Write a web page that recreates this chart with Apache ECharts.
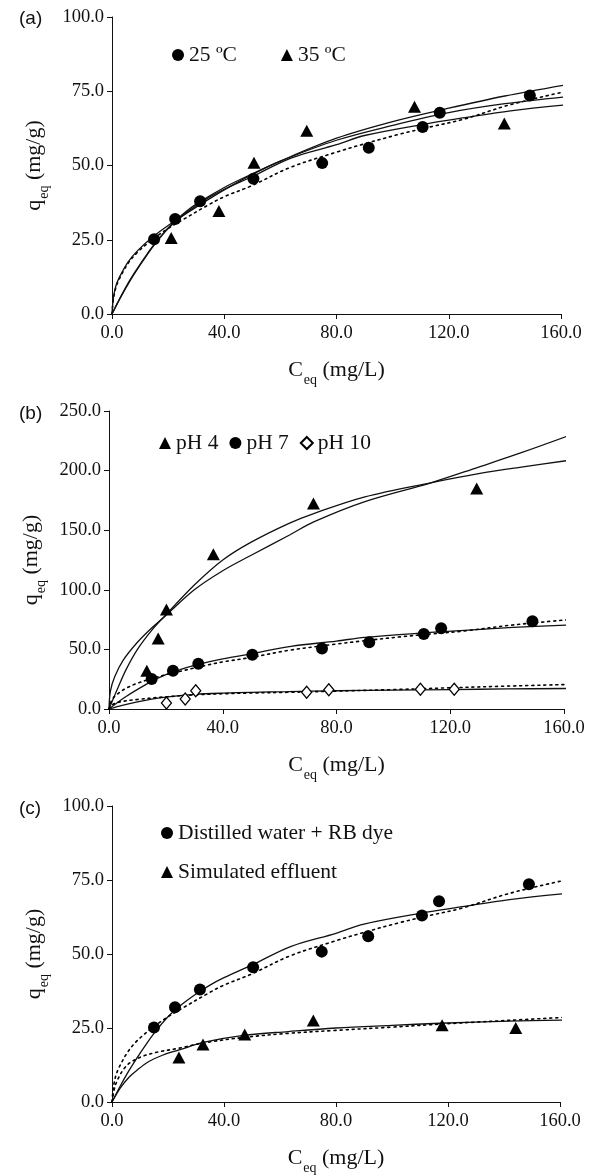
<!DOCTYPE html>
<html>
<head>
<meta charset="utf-8">
<title>Isotherms</title>
<script src="https://cdn.jsdelivr.net/npm/echarts@6/dist/echarts.min.js"></script>
<style>
  html, body { margin: 0; padding: 0; background: #fff; }
  #chart { width: 589px; height: 1176px; }
</style>
</head>
<body>
<div id="chart"></div>
<script>
// ---- data ----
// x ticks (shared by all panels)
var xTicks = [0, 40, 80, 120, 160];

// measured points, 25 C / pH 7 / distilled water (same run in a, b, c)
var ce25 = [15.0, 22.5, 31.4, 50.4, 74.9, 91.5, 110.7, 116.8, 148.9];
var qe25 = [25.2, 32.0, 38.0, 45.5, 50.8, 56.0, 63.0, 67.8, 73.6];

// (a) 35 C
var ce35 = [21.1, 38.1, 50.6, 69.4, 107.8, 139.8];
var qe35 = [25.6, 34.7, 50.9, 61.7, 69.8, 64.1];

// (b) pH 4 and pH 10
var cePH4 = [13.3, 17.3, 20.2, 36.7, 71.9, 129.3];
var qePH4 = [32.1, 59.2, 83.5, 129.9, 172.3, 184.9];
var cePH10 = [20.2, 26.8, 30.5, 69.5, 77.3, 109.5, 121.4];
var qePH10 = [5.0, 8.4, 15.4, 14.0, 16.2, 16.5, 16.5];

// (c) simulated effluent
var ceSE = [23.9, 32.5, 47.4, 71.9, 117.9, 144.2];
var qeSE = [15.0, 19.4, 22.8, 27.5, 25.9, 25.0];

// fitted curves
var fitL25x = [0, 3, 6, 9, 12, 15, 20, 25, 30, 35, 40, 50, 64, 80, 90, 113, 125, 142, 162.5];
var fitL25y = [0, 5.5, 10.5, 15, 19.2, 23.2, 28.8, 33, 36.5, 39.5, 42, 46.3, 52.6, 57, 60.1, 64.2, 66, 68.4, 70.5];
var fitF25x = [0, 0.5, 1.4, 2.7, 5.7, 9.3, 14.6, 20, 24.8, 34.3, 40, 49.8, 63.4, 80, 89.6, 102.7, 113.4, 125, 142, 162.5];
var fitF25y = [0, 5, 9, 12, 17, 21, 25.2, 28.8, 31.5, 36.7, 39.5, 43.2, 49.3, 54.5, 57.2, 60.6, 63, 65.5, 70.5, 75.1];
var fitL35x = [0, 3, 6, 9, 12, 15, 20, 25, 30, 40, 50, 60, 80, 100, 120, 140, 162.5];
var fitL35y = [0, 5.6, 10.8, 15.3, 19.5, 23.4, 29, 33.4, 37, 42.6, 47.2, 51.5, 58.5, 63.5, 67.8, 70.8, 73.2];
var fitF35x = [0, 0.5, 1.4, 2.7, 5.7, 9.3, 14.6, 20, 30, 40, 50, 60, 80, 100, 120, 140, 162.5];
var fitF35y = [0, 5.5, 9.5, 12.5, 17.5, 21.5, 26, 29.8, 36, 41.8, 47, 51.5, 59.2, 64.8, 69.3, 73.4, 77.3];

var fitL4x = [0, 3, 6, 10, 15, 20, 30, 40, 50, 63.5, 72, 90, 113.5, 130, 145, 162];
var fitL4y = [0, 17, 33, 50, 66, 79, 104, 125, 140, 156, 164, 178, 190, 197.5, 203, 208.7];
var fitF4x = [0, 0.5, 2, 5, 10, 15, 20, 30, 40, 50, 63.5, 72, 90, 113.5, 130, 145, 162];
var fitF4y = [0, 15, 27, 41, 56, 68, 78.5, 100, 116, 129, 146, 157, 174, 190, 203, 215, 229.6];
var fitL10x = [0, 5, 10, 15, 20, 25, 30, 40, 50, 63, 80, 100, 120, 140, 162];
var fitL10y = [0, 3.3, 6, 8.3, 10, 11.3, 12.3, 13.3, 14, 14.6, 15.3, 15.8, 16.3, 16.8, 17.2];
var fitF10x = [0, 1, 4, 10, 20, 30, 40, 50, 63, 80, 100, 120, 140, 162];
var fitF10y = [0, 3.5, 6, 8, 10.2, 11.8, 12.8, 13.4, 14, 15, 16.3, 17.8, 19.2, 20.6];

var fitLSEx = [0, 3, 6, 9, 13, 18, 24, 33, 47, 63, 80, 100, 117, 142, 162];
var fitLSEy = [0, 4.8, 8.3, 10.8, 13.6, 15.8, 17.6, 20.2, 22.5, 23.8, 25, 25.9, 26.6, 27.3, 27.7];
var fitFSEx = [0, 1, 2.5, 4.5, 6.5, 10.5, 16, 24, 33, 47, 63, 80, 100, 117, 142, 162];
var fitFSEy = [0, 5, 8.5, 11.5, 13.3, 15.3, 16.8, 18.2, 20, 21.8, 23.2, 24.2, 25.3, 26.3, 27.6, 28.6];

// ---- helpers ----
var SERIF = '"Liberation Serif", "Times New Roman", serif';
var SANS = '"Liberation Sans", Arial, sans-serif';

function pairs(xs, ys) {
  return xs.map(function(x, i) { return [x, ys[i]]; });
}

function points(name, xs, ys, idx, symbol, size, hollow) {
  return {
    type: 'scatter',
    name: name,
    xAxisIndex: idx,
    yAxisIndex: idx,
    symbol: symbol,
    symbolSize: size,
    z: 5,
    itemStyle: hollow ?
      { color: '#fff', borderColor: '#000', borderWidth: 1.3, opacity: 1 } :
      { color: '#000', opacity: 1 },
    data: pairs(xs, ys)
  };
}

function curve(xs, ys, idx, dotted) {
  return {
    type: 'line',
    xAxisIndex: idx,
    yAxisIndex: idx,
    showSymbol: false,
    symbol: 'none',
    smooth: 0.35,
    clip: false,
    silent: true,
    z: 3,
    lineStyle: dotted ?
      { color: '#000', width: 1.6, type: [2, 4], cap: 'round' } :
      { color: '#111', width: 1.3 },
    data: pairs(xs, ys)
  };
}

// axis title with a subscript, e.g. C_eq
function axisName() {
  return {
    fontFamily: SERIF,
    fontSize: 22,
    color: '#111',
    rich: {
      m: { fontFamily: SERIF, fontSize: 22, color: '#111', verticalAlign: 'bottom', lineHeight: 25 },
      s: { fontFamily: SERIF, fontSize: 14, color: '#111', verticalAlign: 'bottom', lineHeight: 25, padding: [0, 0, -6, 1] }
    }
  };
}

function xAxisFor(idx) {
  return {
    type: 'value',
    gridIndex: idx,
    min: xTicks[0],
    max: xTicks[xTicks.length - 1],
    interval: 40,
    name: '{m|C}{s|eq}{m| (mg/L)}',
    nameLocation: 'middle',
    nameGap: 42,
    nameTextStyle: axisName(),
    axisLine: { lineStyle: { color: '#111', width: 1 } },
    axisTick: { length: 5, lineStyle: { color: '#111' } },
    axisLabel: {
      margin: 10,
      fontFamily: SERIF,
      fontSize: 18.5,
      color: '#111',
      formatter: function(v) { return v.toFixed(1); }
    },
    splitLine: { show: false }
  };
}

function yAxisFor(idx, max, step) {
  return {
    type: 'value',
    gridIndex: idx,
    min: 0,
    max: max,
    interval: step,
    name: '{m|q}{s|eq}{m| (mg/g)}',
    nameLocation: 'middle',
    nameRotate: 90,
    nameGap: 64,
    nameTextStyle: axisName(),
    axisLine: { show: true, lineStyle: { color: '#111', width: 1 } },
    axisTick: { show: true, length: 5, lineStyle: { color: '#111' } },
    axisLabel: {
      margin: 8,
      fontFamily: SERIF,
      fontSize: 18.5,
      color: '#111',
      formatter: function(v) { return v.toFixed(1); }
    },
    splitLine: { show: false }
  };
}

function legendFor(names, left, top, orient, gap) {
  return {
    data: names,
    left: left,
    top: top,
    orient: orient,
    itemGap: gap,
    itemWidth: 12,
    itemHeight: 12,
    selectedMode: false,
    textStyle: { fontFamily: SERIF, fontSize: 21.5, color: '#111' }
  };
}

function panelLabel(text, top) {
  return {
    text: text,
    left: 14,
    top: top,
    textStyle: { fontFamily: SANS, fontSize: 19, fontWeight: 'normal', color: '#111' }
  };
}

var chart = echarts.init(document.getElementById('chart'), null, { renderer: 'canvas' });

var option = {
  backgroundColor: '#fff',
  animation: false,
  title: [
    panelLabel('(a)', 4),
    panelLabel('(b)', 399),
    panelLabel('(c)', 794)
  ],
  legend: [
    legendFor(['25 ºC', '35 ºC'], 167, 39, 'horizontal', 44),
    legendFor(['pH 4', 'pH 7', 'pH 10'], 154, 427, 'horizontal', 11),
    legendFor(['Distilled water + RB dye', 'Simulated effluent'], 156, 817, 'vertical', 17)
  ],
  grid: [
    { left: 112, top: 17, width: 449, height: 297 },
    { left: 109, top: 411, width: 455, height: 298 },
    { left: 112, top: 806, width: 448, height: 300 }
  ],
  xAxis: [xAxisFor(0), xAxisFor(1), xAxisFor(2)],
  yAxis: [yAxisFor(0, 100, 25), yAxisFor(1, 250, 50), yAxisFor(2, 100, 25)],
  series: [
    // (a) temperature
    curve(fitL25x, fitL25y, 0, false),
    curve(fitF25x, fitF25y, 0, true),
    curve(fitL35x, fitL35y, 0, false),
    curve(fitF35x, fitF35y, 0, false),
    points('25 ºC', ce25, qe25, 0, 'circle', 12),
    points('35 ºC', ce35, qe35, 0, 'triangle', [13, 12]),

    // (b) pH
    curve(fitL4x, fitL4y, 1, false),
    curve(fitF4x, fitF4y, 1, false),
    curve(fitL25x, fitL25y, 1, false),
    curve(fitF25x, fitF25y, 1, true),
    curve(fitL10x, fitL10y, 1, false),
    curve(fitF10x, fitF10y, 1, true),
    points('pH 4', cePH4, qePH4, 1, 'triangle', [13, 12]),
    points('pH 7', ce25, qe25, 1, 'circle', 12),
    points('pH 10', cePH10, qePH10, 1, 'diamond', [10, 12], true),

    // (c) matrix
    curve(fitL25x, fitL25y, 2, false),
    curve(fitF25x, fitF25y, 2, true),
    curve(fitLSEx, fitLSEy, 2, false),
    curve(fitFSEx, fitFSEy, 2, true),
    points('Distilled water + RB dye', ce25, qe25, 2, 'circle', 12),
    points('Simulated effluent', ceSE, qeSE, 2, 'triangle', [13, 12])
  ]
};

chart.setOption(option);
</script>
</body>
</html>
